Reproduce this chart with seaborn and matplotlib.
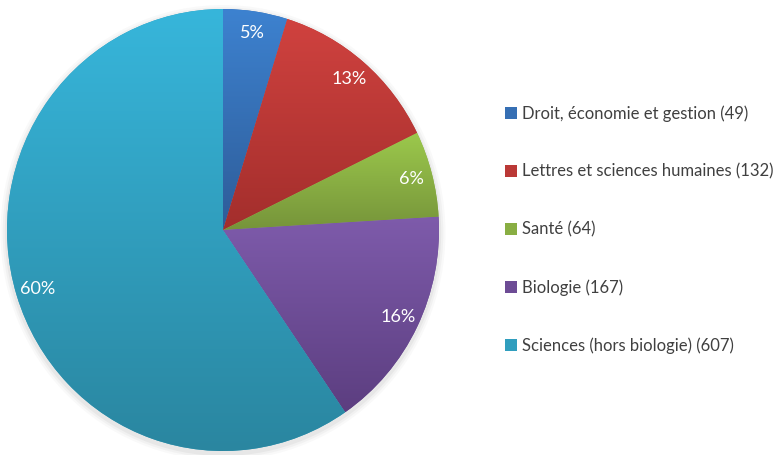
import numpy as np
import pandas as pd
import matplotlib
matplotlib.use("Agg")
import matplotlib.pyplot as plt
import matplotlib.colors as mcolors
import seaborn as sns

sns.set_style("white")
plt.rcParams['font.family'] = ['Lato', 'DejaVu Sans']

# Data
categories = ['Droit, économie et gestion', 'Lettres et sciences humaines',
              'Santé', 'Biologie', 'Sciences (hors biologie)']
counts = [49, 132, 64, 167, 607]

# top / bottom colours of each slice gradient
top_colors = ['#3D82D0', '#D0423F', '#9CC94C', '#7E5BAB', '#37B6DB']
bottom_colors = ['#2E5C98', '#A32E2C', '#76943A', '#5C3E80', '#2A86A0']

df = pd.DataFrame({'category': categories, 'count': counts})
df['label'] = df['category'] + ' (' + df['count'].astype(str) + ')'

fig = plt.figure(figsize=(7.81, 4.55), dpi=100)
ax = fig.add_axes([0, 0, 1, 1])

mid_colors = [mcolors.to_hex(np.mean([mcolors.to_rgb(a), mcolors.to_rgb(b)], axis=0))
              for a, b in zip(top_colors, bottom_colors)]

wedges, texts, autotexts = ax.pie(
    df['count'], colors=mid_colors, startangle=90, counterclock=False,
    autopct='%.0f%%', pctdistance=0.9, radius=1.0,
    wedgeprops=dict(linewidth=0),
    textprops=dict(color='white', fontsize=13))

# soft shadow round the pie
for r, a in [(1.03, 0.05), (1.02, 0.07), (1.01, 0.1)]:
    sh = matplotlib.patches.Ellipse((0.0, -0.012), 2 * r, 2 * r, color='#909090',
                                    alpha=a, lw=0, zorder=0)
    ax.add_patch(sh)

# vertical gradient inside each slice
for w, c1, c2 in zip(wedges, top_colors, bottom_colors):
    ext = w.get_path().get_extents()
    grad = np.linspace(0, 1, 256)[:, None]
    cm = mcolors.LinearSegmentedColormap.from_list('g', [c1, c2])
    im = ax.imshow(np.repeat(grad, 2, axis=1), cmap=cm, aspect='auto',
                   extent=(ext.x0, ext.x1, ext.y0, ext.y1), origin='upper',
                   zorder=1.5, interpolation='bilinear')
    im.set_clip_path(w)

for t in autotexts:
    t.set_zorder(3)

# map the unit pie onto the pixel box of the reference
ax.set_xlim(-223 / 216, (781 - 223) / 216)
ax.set_ylim(-225 / 221, 230 / 221)
ax.set_aspect('auto')
ax.axis('off')

leg = fig.legend(wedges, df['label'], loc='upper left', bbox_to_anchor=(0.638, 0.783),
                 frameon=False, fontsize=12, handlelength=0.7, handleheight=0.7,
                 handletextpad=0.35, labelspacing=2.5, borderaxespad=0)
for txt in leg.get_texts():
    txt.set_color('#404040')

fig.savefig('out.png', dpi=100)
